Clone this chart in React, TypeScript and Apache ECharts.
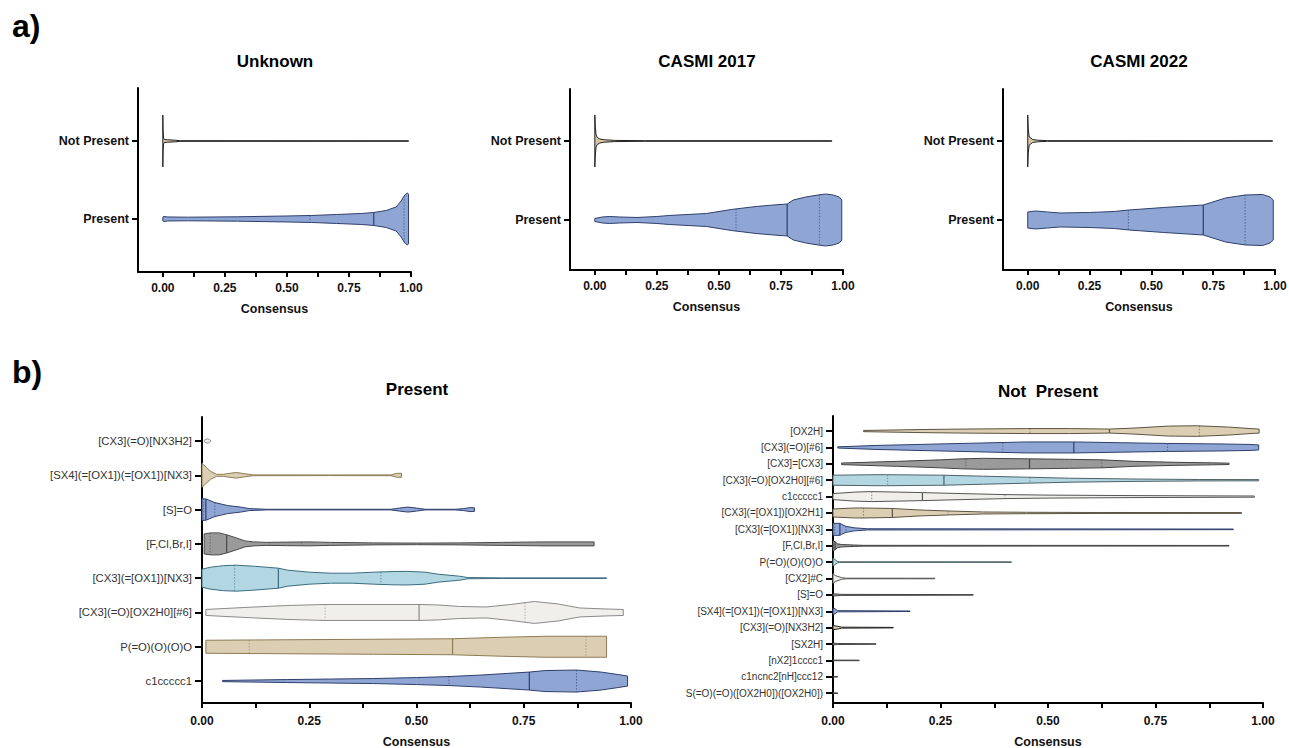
import React, { useEffect, useRef } from "react";
import * as echarts from "echarts";

type Profile = [number, number][]; // [consensus, density (half width)]
type Quart = [number, number, number] | null; // [q1, median, q3]

const FONT = "'Liberation Sans', Arial, Helvetica, sans-serif";

// ---------- axis ticks ----------
const xLabelValues = [0, 0.25, 0.5, 0.75, 1];
const xTickValues = [0, 0.125, 0.25, 0.375, 0.5, 0.625, 0.75, 0.875, 1];

// ---------- panel a ----------
const aTitles = ["Unknown", "CASMI 2017", "CASMI 2022"];
const aCategories = ["Present", "Not Present"]; // bottom -> top

const unknownPresent: Profile = [
  [0, 2], [0.005, 2.5], [0.02, 2], [0.1, 1.8], [0.3, 2.2], [0.5, 3], [0.6, 3.5], [0.7, 4.5],
  [0.8, 5.5], [0.85, 6.5], [0.9, 8.5], [0.94, 12], [0.96, 18], [0.975, 24], [0.985, 26], [0.99, 25],
];
const unknownPresentQ: Quart = [0.593, 0.85, 0.972];
const unknownNotPresent: Profile = [
  [0, 26], [0.001, 10], [0.003, 3], [0.006, 1.5], [0.02, 1.2], [0.05, 0.8], [0.07, 0.3], [0.99, 0.25],
];

const casmi17Present: Profile = [
  [0, 1.5], [0.03, 3], [0.06, 3.5], [0.1, 3], [0.17, 2.5], [0.25, 3.5], [0.3, 4.5], [0.45, 6.5],
  [0.55, 10.5], [0.65, 13.5], [0.72, 15], [0.775, 16], [0.8, 20], [0.85, 23], [0.9, 25], [0.93, 26],
  [0.96, 25], [0.985, 23], [0.995, 20],
];
const casmi17PresentQ: Quart = [0.569, 0.775, 0.905];
const casmi17NotPresent: Profile = [
  [0, 26], [0.002, 14], [0.005, 6], [0.01, 3.5], [0.02, 2], [0.04, 1.2], [0.08, 0.6], [0.2, 0.3], [0.955, 0.25],
];

const casmi22Present: Profile = [
  [0, 8], [0.03, 9], [0.08, 8], [0.13, 7], [0.25, 7.5], [0.35, 8.5], [0.41, 10], [0.55, 12.5],
  [0.71, 15], [0.8, 22], [0.88, 25], [0.95, 25.5], [0.98, 23], [0.993, 20],
];
const casmi22PresentQ: Quart = [0.407, 0.71, 0.879];
const casmi22NotPresent: Profile = [
  [0, 26], [0.002, 12], [0.006, 4], [0.012, 3], [0.02, 1.5], [0.04, 0.8], [0.08, 0.3], [0.99, 0.25],
];

// ---------- panel b (Present) : top -> bottom ----------
const presentCategories = [
  "[CX3](=O)[NX3H2]", "[SX4](=[OX1])(=[OX1])[NX3]", "[S]=O", "[F,Cl,Br,I]",
  "[CX3](=[OX1])[NX3]", "[CX3](=O)[OX2H0][#6]", "P(=O)(O)(O)O", "c1ccccc1",
];
const presentProfiles: Profile[] = [
  [[0.005, 0.5], [0.01, 2], [0.015, 2], [0.02, 0.5]],
  [[0, 12], [0.01, 8], [0.02, 4], [0.034, 1], [0.05, 1], [0.065, 2], [0.08, 2.8], [0.1, 1.5], [0.12, 0.4],
   [0.3, 0.3], [0.44, 0.4], [0.455, 2], [0.465, 2]],
  [[0, 11], [0.01, 10.5], [0.03, 7], [0.06, 4], [0.09, 2.5], [0.11, 1], [0.15, 0.3], [0.44, 0.3], [0.46, 1.5],
   [0.48, 2.5], [0.5, 1.5], [0.52, 0.3], [0.59, 0.3], [0.61, 1], [0.625, 2], [0.635, 1.8]],
  [[0.005, 10], [0.02, 11], [0.04, 11], [0.058, 9], [0.08, 6], [0.1, 3], [0.12, 2], [0.15, 1.5], [0.2, 1.8],
   [0.25, 2], [0.3, 1.5], [0.4, 1], [0.5, 0.8], [0.6, 1], [0.7, 1.5], [0.8, 2], [0.9, 2], [0.914, 2]],
  [[0, 9], [0.02, 11], [0.05, 12.5], [0.08, 13], [0.12, 12], [0.178, 10], [0.2, 8], [0.25, 6], [0.3, 5],
   [0.35, 5], [0.4, 6], [0.45, 6.7], [0.48, 6.8], [0.52, 6], [0.55, 4], [0.6, 2], [0.62, 0.6], [0.7, 0.3], [0.943, 0.3]],
  [[0.009, 3], [0.1, 5], [0.2, 7], [0.287, 8], [0.45, 8], [0.506, 8], [0.55, 7.5], [0.6, 6], [0.663, 5.5],
   [0.72, 8], [0.775, 11], [0.83, 8.5], [0.88, 4.5], [0.94, 3.5], [0.982, 3]],
  [[0.009, 6.5], [0.2, 7], [0.4, 7.5], [0.584, 8], [0.7, 9.5], [0.8, 10.5], [0.9, 10.5], [0.943, 10.5]],
  [[0.048, 0.6], [0.2, 1.5], [0.3, 2], [0.4, 2.5], [0.5, 3.5], [0.576, 4.5], [0.65, 6], [0.763, 9], [0.8, 10.5],
   [0.873, 11], [0.93, 9], [0.97, 6.5], [0.992, 5]],
];
const presentQuartiles: Quart[] = [
  null, null, [0.004, 0.009, 0.03], [0.019, 0.0575, 0.232], [0.076, 0.178, 0.417],
  [0.287, 0.506, 0.753], [0.11, 0.584, 0.895], [0.576, 0.763, 0.873],
];
const presentColors = ["white", "tan", "blue", "gray", "lblue", "white", "tan", "blue"];

// ---------- panel b (Not Present) : top -> bottom ----------
const notPresentCategories = [
  "[OX2H]", "[CX3](=O)[#6]", "[CX3]=[CX3]", "[CX3](=O)[OX2H0][#6]", "c1ccccc1",
  "[CX3](=[OX1])[OX2H1]", "[CX3](=[OX1])[NX3]", "[F,Cl,Br,I]", "P(=O)(O)(O)O", "[CX2]#C",
  "[S]=O", "[SX4](=[OX1])(=[OX1])[NX3]", "[CX3](=O)[NX3H2]", "[SX2H]", "[nX2]1cccc1",
  "c1ncnc2[nH]ccc12", "S(=O)(=O)([OX2H0])([OX2H0])",
];
const notPresentProfiles: Profile[] = [
  [[0.071, 0.6], [0.2, 1.5], [0.3, 2], [0.45, 2.5], [0.55, 2.5], [0.643, 2], [0.7, 3], [0.78, 5], [0.846, 5.3],
   [0.92, 4], [0.97, 2.5], [0.991, 2]],
  [[0.011, 0.6], [0.1, 2], [0.2, 3], [0.3, 4], [0.4, 5], [0.45, 5.5], [0.56, 5.5], [0.7, 4.5], [0.778, 4],
   [0.9, 3.5], [0.97, 3], [0.99, 2.5]],
  [[0.02, 0.8], [0.15, 2.5], [0.25, 4], [0.3, 5], [0.35, 5.5], [0.457, 5], [0.55, 4.5], [0.625, 4], [0.7, 2.5],
   [0.8, 1.5], [0.88, 1], [0.921, 0.7]],
  [[0, 5], [0.1, 5.5], [0.127, 5.5], [0.258, 5], [0.35, 4], [0.45, 3], [0.55, 2], [0.7, 1.2], [0.85, 0.7], [0.99, 0.6]],
  [[0, 3], [0.05, 4.5], [0.09, 5], [0.15, 4.5], [0.208, 4], [0.3, 3], [0.4, 2], [0.5, 1.5], [0.7, 1], [0.9, 0.7], [0.98, 0.6]],
  [[0, 4], [0.05, 5], [0.07, 5], [0.138, 4.5], [0.2, 3], [0.268, 2], [0.35, 1], [0.45, 0.7], [0.6, 0.5], [0.95, 0.4]],
  [[0, 6], [0.016, 6], [0.02, 5], [0.03, 3], [0.05, 1.5], [0.08, 0.6], [0.931, 0.3]],
  [[0, 5], [0.005, 4], [0.01, 2], [0.02, 1.2], [0.05, 0.7], [0.07, 0.4], [0.921, 0.3]],
  [[0, 4], [0.005, 2.5], [0.01, 0.8], [0.015, 0.3], [0.415, 0.25]],
  [[0, 5], [0.005, 3], [0.02, 0.8], [0.03, 0.3], [0.237, 0.25]],
  [[0, 1], [0.005, 1], [0.02, 0.5], [0.326, 0.25]],
  [[0, 3], [0.005, 2.5], [0.01, 0.6], [0.179, 0.25]],
  [[0, 2], [0.01, 1.5], [0.02, 0.5], [0.14, 0.25]],
  [[0, 1], [0.01, 0.5], [0.1, 0.25]],
  [[0, 0.3], [0.061, 0.25]],
  [[0, 0.3], [0.011, 0.25]],
  [[0, 0.3], [0.011, 0.25]],
];
const notPresentQuartiles: Quart[] = [
  [0.458, 0.643, 0.852], [0.395, 0.56, 0.778], [0.309, 0.457, 0.625], [0.127, 0.258, 0.458],
  [0.09, 0.208, 0.4], [0.071, 0.138, 0.268], [0.004, 0.016, 0.03], [0.002, 0.005, 0.012],
  null, null, null, null, null, null, null, null, null,
];
const notPresentColors = [
  "tan", "blue", "gray", "lblue", "white", "tan", "blue", "gray", "lblue", "white",
  "gray", "blue", "dark", "gray", "gray", "gray", "gray",
];

// ---------- styles ----------
const PALETTE: Record<string, { fill: string; stroke: string }> = {
  blue: { fill: "#8FA6D4", stroke: "#2F3F6C" },
  tan: { fill: "#DCCEB3", stroke: "#8E7B55" },
  gray: { fill: "#9A9A9A", stroke: "#4A4A4A" },
  lblue: { fill: "#B2D7E2", stroke: "#3A6D7E" },
  white: { fill: "#F1EFEB", stroke: "#8A8A8A" },
  dark: { fill: "#D6C6A6", stroke: "#222222" },
};
// darker outlines used in the "Not Present" panel
const PALETTE_DARK: Record<string, { fill: string; stroke: string }> = {
  blue: { fill: "#8FA6D4", stroke: "#2F3F6C" },
  tan: { fill: "#DCCEB3", stroke: "#5E5444" },
  gray: { fill: "#9A9A9A", stroke: "#444444" },
  lblue: { fill: "#B2D7E2", stroke: "#4E6268" },
  white: { fill: "#F1EFEB", stroke: "#555555" },
  dark: { fill: "#D6C6A6", stroke: "#222222" },
};

type Violin = { cat: number; prof: Profile; q: Quart; col: string };

function interp(prof: Profile, x: number): number {
  if (x <= prof[0][0]) return prof[0][1];
  for (let i = 1; i < prof.length; i++) {
    if (x <= prof[i][0]) {
      const [x0, d0] = prof[i - 1];
      const [x1, d1] = prof[i];
      return d0 + ((d1 - d0) * (x - x0)) / (x1 - x0 || 1);
    }
  }
  return prof[prof.length - 1][1];
}

function makeRender(list: Violin[], scale: number, palette: Record<string, { fill: string; stroke: string }>) {
  return (params: any, api: any) => {
    const v = list[params.dataIndex];
    const cat = api.value(1);
    const band = Math.abs(api.size([0, 1])[1]);
    const pal = palette[v.col];
    const top: number[][] = [];
    const bot: number[][] = [];
    for (const [x, d] of v.prof) {
      const p = api.coord([x, cat]);
      const h = d * scale * band;
      top.push([p[0], p[1] - h]);
      bot.push([p[0], p[1] + h]);
    }
    const children: any[] = [
      {
        type: "polygon",
        shape: { points: top.concat(bot.reverse()) },
        style: { fill: pal.fill, stroke: pal.stroke, lineWidth: 1 },
      },
    ];
    if (v.q) {
      v.q.forEach((qx, i) => {
        const p = api.coord([qx, cat]);
        const h = interp(v.prof, qx) * scale * band;
        children.push({
          type: "line",
          shape: { x1: p[0], y1: p[1] - h, x2: p[0], y2: p[1] + h },
          style: i === 1
            ? { stroke: pal.stroke, lineWidth: 1.2 }
            : { stroke: pal.stroke, lineWidth: 1, lineDash: [1.5, 1.5], opacity: 0.6 },
        });
      });
    }
    return { type: "group", children };
  };
}

function xAxis(gridIndex: number, min: number, nameGap: number, labelMargin: number) {
  return {
    type: "value",
    gridIndex,
    min,
    max: 1,
    axisLine: { show: true, onZero: false, lineStyle: { color: "#000", width: 2 } },
    axisTick: { show: true, length: 5, customValues: xTickValues, lineStyle: { color: "#000", width: 2 } },
    axisLabel: {
      customValues: xLabelValues,
      formatter: (v: number) => v.toFixed(2),
      fontFamily: FONT,
      fontWeight: "bold",
      fontSize: 12,
      color: "#111",
      margin: labelMargin,
    },
    splitLine: { show: false },
    name: "Consensus",
    nameLocation: "middle",
    nameGap,
    nameTextStyle: { fontFamily: FONT, fontWeight: "bold", fontSize: 12.5, color: "#111" },
  };
}

function yAxis(gridIndex: number, min: number, max: number, cats: string[], bold: boolean, fontSize: number, margin: number, tickLen: number) {
  const n = cats.length;
  const vals = cats.map((_, i) => i);
  return {
    type: "value",
    gridIndex,
    min,
    max,
    axisLine: { show: true, onZero: false, lineStyle: { color: "#000", width: 2 } },
    axisTick: { show: true, length: tickLen, customValues: vals, lineStyle: { color: "#000", width: 2 } },
    axisLabel: {
      customValues: vals,
      formatter: (v: number) => cats[n - 1 - Math.round(v)],
      fontFamily: FONT,
      fontWeight: bold ? "bold" : "normal",
      fontSize,
      color: bold ? "#111" : "#333",
      margin,
    },
    splitLine: { show: false },
  };
}

export default function App() {
  const ref = useRef<HTMLDivElement>(null);

  useEffect(() => {
    if (!ref.current) return;
    const chart = echarts.init(ref.current, null, { renderer: "svg" });

    const aCats = aCategories.slice().reverse(); // top -> bottom
    const aLists: Violin[][] = [
      [
        { cat: 0, prof: unknownPresent, q: unknownPresentQ, col: "blue" },
        { cat: 1, prof: unknownNotPresent, q: null, col: "dark" },
      ],
      [
        { cat: 0, prof: casmi17Present, q: casmi17PresentQ, col: "blue" },
        { cat: 1, prof: casmi17NotPresent, q: null, col: "dark" },
      ],
      [
        { cat: 0, prof: casmi22Present, q: casmi22PresentQ, col: "blue" },
        { cat: 1, prof: casmi22NotPresent, q: null, col: "dark" },
      ],
    ];
    const nP = presentCategories.length;
    const presentList: Violin[] = presentCategories.map((_, i) => ({
      cat: nP - 1 - i, prof: presentProfiles[i], q: presentQuartiles[i], col: presentColors[i],
    }));
    const nN = notPresentCategories.length;
    const notPresentList: Violin[] = notPresentCategories.map((_, i) => ({
      cat: nN - 1 - i, prof: notPresentProfiles[i], q: notPresentQuartiles[i], col: notPresentColors[i],
    }));

    const allLists = [...aLists, presentList, notPresentList];
    const scales = [1 / 78, 1 / 79, 1 / 79, 1 / 34.3, 1 / 16.375];
    const palettes = [PALETTE, PALETTE, PALETTE, PALETTE, PALETTE_DARK];

    const series = allLists.map((list, gi) => ({
      type: "custom",
      xAxisIndex: gi,
      yAxisIndex: gi,
      coordinateSystem: "cartesian2d",
      clip: false,
      silent: true,
      renderItem: makeRender(list, scales[gi], palettes[gi]),
      encode: { x: 0, y: 1 },
      data: list.map((v) => [v.q ? v.q[1] : v.prof[0][0], v.cat]),
    }));

    const titleStyle = { fontFamily: FONT, fontWeight: "bold", fill: "#000", align: "center", verticalAlign: "middle" };

    chart.setOption({
      animation: false,
      backgroundColor: "#fff",
      grid: [
        { left: 138, top: 88, width: 273, height: 184, outerBoundsMode: "none" },
        { left: 570, top: 89, width: 273, height: 181, outerBoundsMode: "none" },
        { left: 1003, top: 89, width: 272, height: 181, outerBoundsMode: "none" },
        { left: 202, top: 417, width: 429, height: 286, outerBoundsMode: "none" },
        { left: 833, top: 416, width: 430, height: 287, outerBoundsMode: "none" },
      ],
      xAxis: [
        xAxis(0, -0.1, 30, 10),
        xAxis(1, -0.1, 30, 10),
        xAxis(2, -0.1, 30, 10),
        xAxis(3, 0, 32, 12),
        xAxis(4, 0, 32, 12),
      ],
      yAxis: [
        yAxis(0, -0.68, 1.68, aCats, true, 12.5, 9, 6),
        yAxis(1, -0.633, 1.658, aCats, true, 12.5, 9, 6),
        yAxis(2, -0.633, 1.658, aCats, true, 12.5, 9, 6),
        yAxis(3, -0.64, 7.7, presentCategories, false, 11.3, 10, 7),
        yAxis(4, -0.6, 16.92, notPresentCategories, false, 10, 10, 7),
      ],
      graphic: [
        { type: "text", x: 12, y: 26, style: { ...titleStyle, align: "left", text: "a)", fontSize: 32 } },
        { type: "text", x: 12, y: 372, style: { ...titleStyle, align: "left", text: "b)", fontSize: 32 } },
        { type: "text", x: 275, y: 61, style: { ...titleStyle, text: aTitles[0], fontSize: 17 } },
        { type: "text", x: 707, y: 61.5, style: { ...titleStyle, text: aTitles[1], fontSize: 17 } },
        { type: "text", x: 1139, y: 61.5, style: { ...titleStyle, text: aTitles[2], fontSize: 17 } },
        { type: "text", x: 417, y: 389, style: { ...titleStyle, text: "Present", fontSize: 17 } },
        { type: "text", x: 1048, y: 391, style: { ...titleStyle, text: "Not  Present", fontSize: 17 } },
      ],
      series,
    });

    return () => chart.dispose();
  }, []);

  return (
    <div
      ref={ref}
      style={{ position: "absolute", left: 0, top: 0, width: 1289, height: 748 }}
    />
  );
}
